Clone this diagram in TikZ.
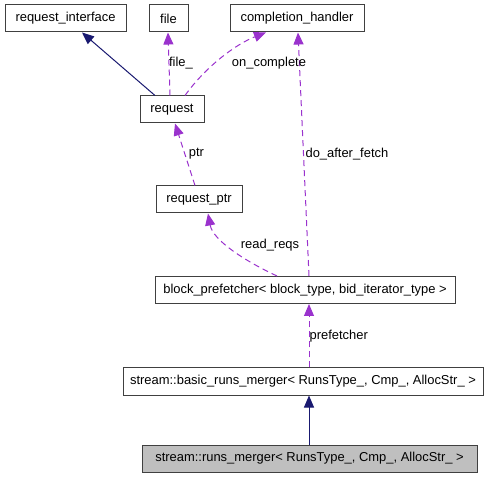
\documentclass[tikz,border=0pt]{standalone}
\usepackage{fontspec}
\setmainfont{Liberation Sans}
\usetikzlibrary{arrows.meta,calc}

\definecolor{usecol}{HTML}{9A32CD}
\definecolor{inhcol}{HTML}{191970}

\begin{document}
\begin{tikzpicture}[
    x=0.75pt, y=-0.75pt,
    cls/.style={draw=black!75, fill=white, line width=0.75pt, minimum height=20.25pt,
        inner sep=2pt, font=\fontsize{9.7}{11}\selectfont},
    cur/.style={cls, fill=black!25},
    inh/.style={inhcol, line width=0.75pt, -{Triangle[length=9pt,width=7.5pt]}},
    use/.style={usecol, line width=0.75pt, dash pattern=on 4.5pt off 3pt,
        -{Triangle[length=9pt,width=7.5pt]}},
    lbl/.style={font=\fontsize{9.7}{11}\selectfont, inner sep=1pt}
]
    \useasboundingbox (0,0) rectangle (500,477);

    % classes
    \node[cls, minimum width=90.75pt] (reqif) at (65.5,18.5) {request\_interface};
    \node[cls, minimum width=29.25pt] (file) at (168.5,18.5) {file};
    \node[cls, minimum width=100.5pt] (ch) at (297,18.5) {completion\_handler};
    \node[cls, minimum width=48pt] (req) at (172,109.5) {request};
    \node[cls, minimum width=64.5pt] (reqptr) at (199,199.5) {request\_ptr};
    \node[cls, minimum width=225pt] (bpf) at (305,290) {block\_prefetcher< block\_type, bid\_iterator\_type >};
    \node[cls, minimum width=270pt] (brm) at (303,381.5) {stream::basic\_runs\_merger< RunsType\_, Cmp\_, AllocStr\_ >};
    \node[cur, minimum width=251.25pt] (rm) at (309.5,458.5) {stream::runs\_merger< RunsType\_, Cmp\_, AllocStr\_ >};

    % inheritance
    \draw[inh] ($(req.north)+(-17,0)$) -- ($(reqif.south)+(16.5,0)$);
    \draw[inh] ($(rm.north)+(-0.5,0)$) -- ($(brm.south)+(6,0)$);

    % members
    \draw[use] ($(req.north)+(-2,0)$) -- ($(file.south)+(-0.5,0)$);
    \draw[use] ($(req.north)+(13,0)$) .. controls ($(req.north)+(33,-28)$) and ($(ch.south)+(-62,12)$) .. ($(ch.south)+(-31,0)$);
    \draw[use] ($(reqptr.north)+(-4,0)$) -- ($(req.south)+(3,0)$);
    \draw[use] ($(bpf.north)+(-28,0)$) .. controls ($(bpf.north)+(-60,-15)$) and ($(reqptr.south)+(14,27)$) .. ($(reqptr.south)+(9,0)$);
    \draw[use] ($(bpf.north)+(4,0)$) -- ($(ch.south)+(1,0)$);
    \draw[use] ($(brm.north)+(6,0)$) -- ($(bpf.south)+(4,0)$);

    % member names
    \node[lbl] (lfile) at (181,63) {file\_};
    \node[lbl] (loncomp) at (269,63) {on\_complete};
    \node[lbl] (lptr) at (196.5,154) {ptr};
    \node[lbl] (lreadreqs) at (270,245) {read\_reqs};
    \node[lbl, anchor=west] (lafter) at (304,154) {do\_after\_fetch};
    \node[lbl, anchor=west] (lpref) at (308,336) {prefetcher};
\end{tikzpicture}
\end{document}
